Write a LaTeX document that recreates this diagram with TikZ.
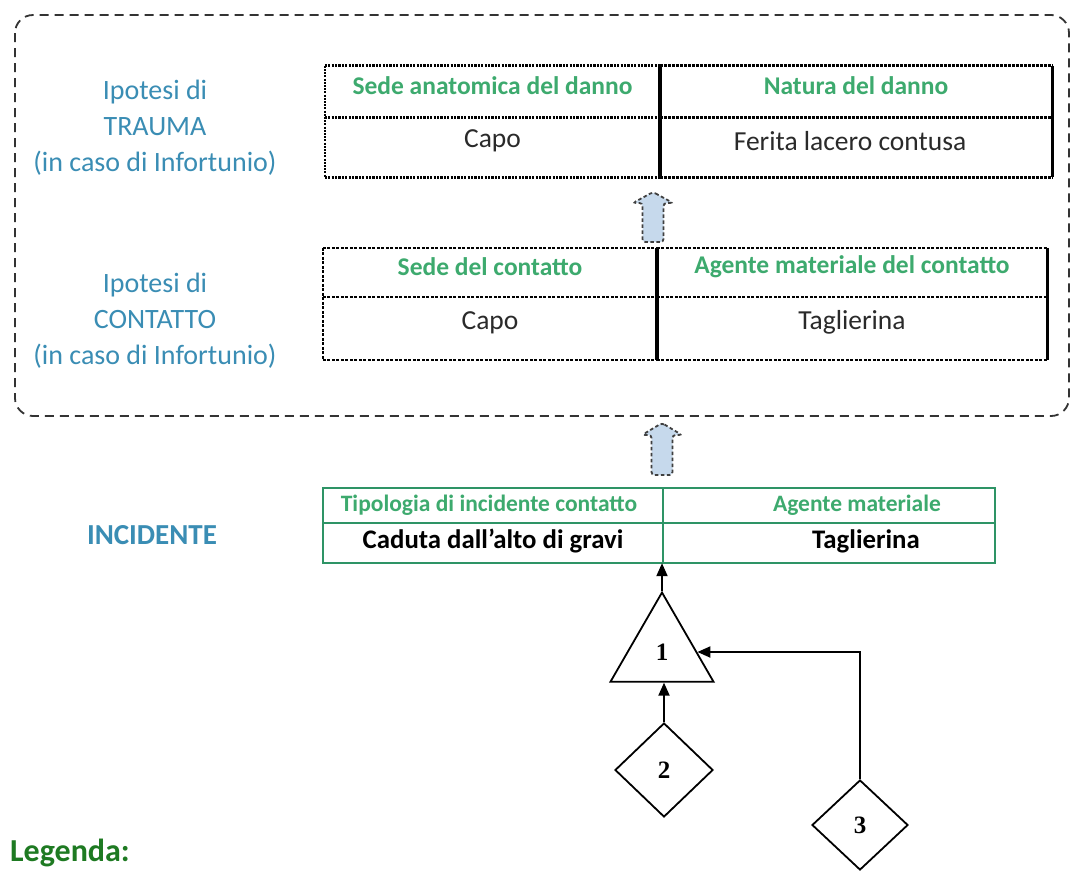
\documentclass[tikz,border=0pt]{standalone}
\usepackage{fontspec}
\setmainfont{Carlito}
\newfontfamily\numfont{Liberation Serif}
\usetikzlibrary{arrows.meta,shapes.geometric}
\definecolor{lblblue}{HTML}{3A8DB4}
\definecolor{hdrgreen}{HTML}{3DAA6E}
\definecolor{tabgreen}{HTML}{2E9466}
\definecolor{leggreen}{HTML}{1E7A22}
\definecolor{arrowfill}{HTML}{C6D9EC}
\definecolor{txtgray}{HTML}{2A2A2A}
\begin{document}
\begin{tikzpicture}[x=1pt,y=-1pt,
  cell/.style={inner sep=0pt, draw=none},
  lbl/.style={align=center, text=lblblue, font=\fontsize{28}{36}\selectfont},
  hdr/.style={text=hdrgreen, font=\bfseries\fontsize{25.5}{28}\selectfont, inner sep=0pt},
  body/.style={text=txtgray, font=\fontsize{27.5}{30}\selectfont, inner sep=0pt},
  hdrsmall/.style={text=hdrgreen, font=\bfseries\fontsize{23.5}{26}\selectfont, inner sep=0pt},
  bodybold/.style={text=black, font=\bfseries\fontsize{26.8}{30}\selectfont, inner sep=0pt},
  dotb/.style={line width=2.8pt, dash pattern=on 2.2pt off 1.2pt},
  dotthin/.style={line width=2pt, dash pattern=on 2pt off 1.2pt},
  dashb/.style={line width=3pt, dash pattern=on 3pt off 1pt},
  solidb/.style={line width=3.4pt},
  dasht/.style={line width=1.6pt, dash pattern=on 3pt off 1.5pt},
  greenb/.style={draw=tabgreen, line width=1.8pt},
  outerbox/.style={draw=black!80, line width=1.8pt, dash pattern=on 9pt off 6pt, rounded corners=18pt},
  blockarrow/.style={fill=arrowfill, draw=black!75, line width=1.8pt, dash pattern=on 3.5pt off 2.5pt, rounded corners=3pt},
  shapeline/.style={draw=black, line width=1.8pt},
  conn/.style={draw=black, line width=2pt, -{Triangle[length=13pt,width=11pt]}},
  num/.style={font=\numfont\bfseries\fontsize{25}{28}\selectfont}
]
\clip (0,0) rectangle (1074,871);
\fill[white] (0,0) rectangle (1074,871);

% outer dashed frame
\draw[outerbox] (15,15) rectangle (1069,416);

% left labels
\node[lbl] (lab1) at (155,128) {Ipotesi di\\TRAUMA\\(in caso di Infortunio)};
\node[lbl] (lab2) at (155,321) {Ipotesi di\\CONTATTO\\(in caso di Infortunio)};
\node[text=lblblue, font=\bfseries\fontsize{29}{32}\selectfont] (lab3) at (152,535) {INCIDENTE};

% ---------- table 1 (trauma)
\node[cell, minimum width=335pt, minimum height=51pt] (c1a) at (492.5,91.5) {};
\node[cell, minimum width=392pt, minimum height=51pt] (c1b) at (856,91.5) {};
\node[cell, minimum width=335pt, minimum height=60pt] (c1c) at (492.5,147) {};
\node[cell, minimum width=392pt, minimum height=60pt] (c1d) at (856,147) {};
\node[hdr] (h1a) at ([yshift=6pt]c1a.center) {Sede anatomica del danno};
\node[hdr] (h1b) at ([yshift=6pt]c1b.center) {Natura del danno};
\node[body] (b1c) at ([yshift=6pt]c1c.center) {Capo};
\node[body] (b1d) at ([yshift=6pt,xshift=-6pt]c1d.center) {Ferita lacero contusa};
\draw[dotb] (c1a.north west) -- (c1a.north east);
\draw[dotb] (c1a.south west) -- (c1a.south east);
\draw[dotb] (c1c.south west) -- (c1c.south east);
\draw[dotthin] (c1a.north west) -- (c1c.south west);
\draw[dashb] (c1b.north west) -- (c1b.north east);
\draw[dashb] (c1b.south west) -- (c1b.south east);
\draw[dashb] (c1d.south west) -- (c1d.south east);
\draw[solidb] (c1b.north west) -- (c1d.south west);
\draw[solidb] (c1b.north east) -- (c1d.south east);

% ---------- table 2 (contatto)
\node[cell, minimum width=334pt, minimum height=49pt] (c2a) at (490,272.5) {};
\node[cell, minimum width=390pt, minimum height=49pt] (c2b) at (852,272.5) {};
\node[cell, minimum width=334pt, minimum height=63pt] (c2c) at (490,328.5) {};
\node[cell, minimum width=390pt, minimum height=63pt] (c2d) at (852,328.5) {};
\node[hdr] (h2a) at ([yshift=6pt]c2a.center) {Sede del contatto};
\node[hdr] (h2b) at ([yshift=6pt]c2b.center) {Agente materiale del contatto};
\node[body] (b2c) at ([yshift=6pt]c2c.center) {Capo};
\node[body] (b2d) at ([yshift=6pt]c2d.center) {Taglierina};
\draw[dasht] (c2a.north west) -- (c2a.north east);
\draw[dasht] (c2a.south west) -- (c2a.south east);
\draw[dasht] (c2c.south west) -- (c2c.south east);
\draw[dasht] (c2a.north west) -- (c2c.south west);
\draw[dasht, line width=2.2pt] (c2b.north west) -- (c2b.north east);
\draw[dasht, line width=2.2pt] (c2b.south west) -- (c2b.south east);
\draw[dasht, line width=2.2pt] (c2d.south west) -- (c2d.south east);
\draw[solidb] (c2b.north west) -- (c2d.south west);
\draw[solidb] (c2b.north east) -- (c2d.south east);

% ---------- table 3 (incidente)
\node[cell, minimum width=340pt, minimum height=35pt] (c3a) at (493,505.5) {};
\node[cell, minimum width=332pt, minimum height=35pt] (c3b) at (829,505.5) {};
\node[cell, minimum width=340pt, minimum height=40pt] (c3c) at (493,543) {};
\node[cell, minimum width=332pt, minimum height=40pt] (c3d) at (829,543) {};
\node[hdrsmall] (h3a) at ([xshift=-4pt]c3a.center) {Tipologia di incidente contatto};
\node[hdrsmall] (h3b) at ([xshift=28pt]c3b.center) {Agente materiale};
\node[bodybold] (b3c) at ([yshift=2pt]c3c.center) {Caduta dall’alto di gravi};
\node[bodybold] (b3d) at ([yshift=2pt,xshift=37pt]c3d.center) {Taglierina};
\draw[greenb] (c3a.north west) rectangle (c3d.south east);
\draw[greenb] (c3a.south west) -- (c3b.south east);
\draw[greenb] (c3a.north east) -- (c3c.south east);

% ---------- block arrows
\draw[blockarrow] (653,192) -- (673,203) -- (663.5,203) -- (663.5,242) -- (642.5,242) -- (642.5,203) -- (633,203) -- cycle;
\draw[blockarrow] (662,423) -- (682,435) -- (672.5,435) -- (672.5,475) -- (651.5,475) -- (651.5,435) -- (642,435) -- cycle;

% ---------- fault tree part
\node[regular polygon, regular polygon sides=3, shapeline, minimum size=119pt, inner sep=0pt, num] (g1) at (662,652) {1};
\node[diamond, shapeline, minimum width=98pt, minimum height=94pt, inner sep=0pt, num] (g2) at (664,770) {2};
\node[diamond, shapeline, minimum width=96pt, minimum height=90pt, inner sep=0pt, num] (g3) at (860,825) {3};
\draw[conn] (g1.corner 1) -- (g1.corner 1 |- c3c.south);
\draw[conn] (g2.north) -- (g2.north |- g1.corner 2);
\draw[conn] (g3.north) |- (g1.east);

% legend
\node[anchor=base west, inner sep=0pt, text=leggreen, font=\bfseries\fontsize{32}{36}\selectfont] (leg) at (10,861) {Legenda:};
\end{tikzpicture}
\end{document}
